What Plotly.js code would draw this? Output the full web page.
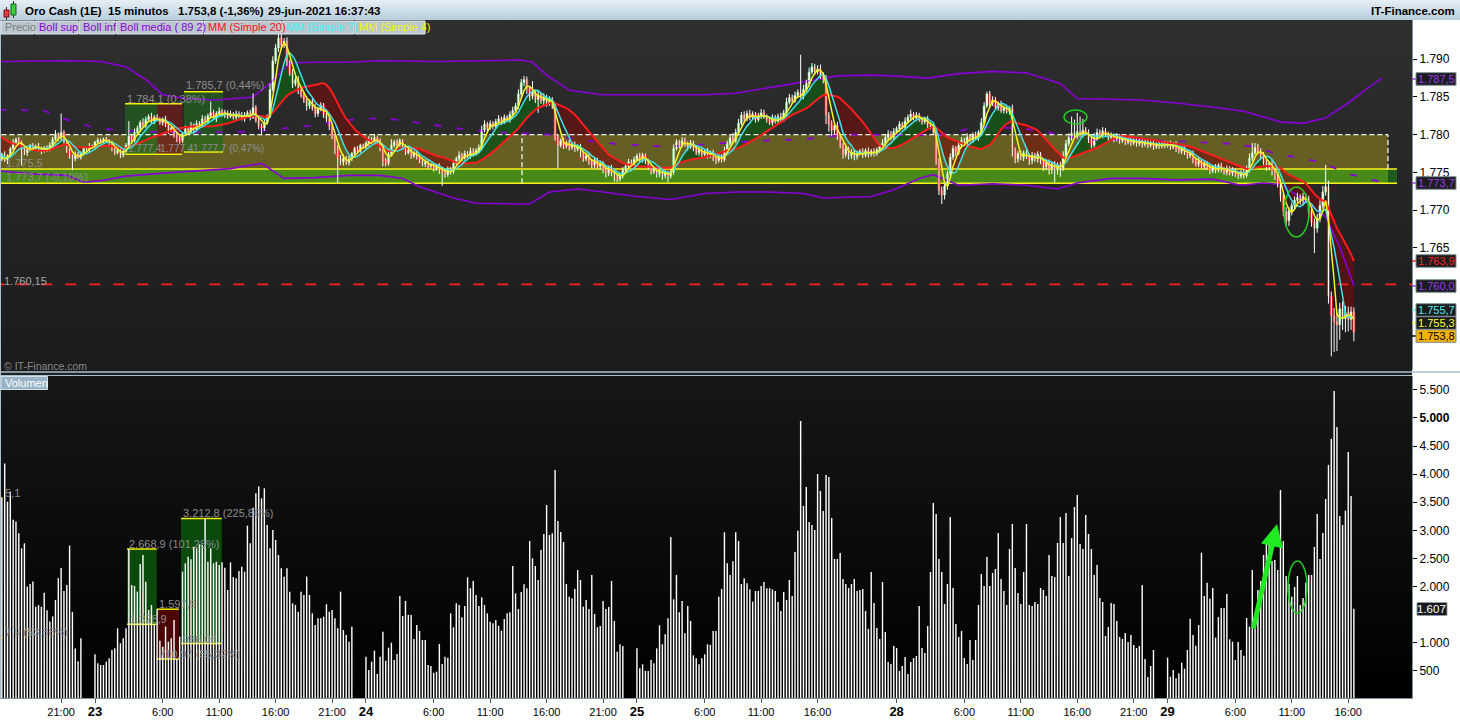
<!DOCTYPE html>
<html><head><meta charset="utf-8">
<script src="https://cdn.plot.ly/plotly-3.0.1.min.js"></script>
<style>
html,body{margin:0;padding:0;background:#fff;overflow:hidden}
#wrap{position:relative;width:1460px;height:720px;background:#fff}
.bg{position:absolute}
#plot{position:absolute;left:0;top:0;width:1460px;height:720px}
</style></head><body>
<div id="wrap">
<div class="bg" style="left:0;top:0;width:1460px;height:20px;background:linear-gradient(#e6eff5,#b7cddc)"></div>
<div class="bg" style="left:0;top:20px;width:1412px;height:351px;background:linear-gradient(#2f2f2f,#1b1b1b)"></div>
<div class="bg" style="left:0;top:371px;width:1412px;height:5px;background:#202020"></div>
<div class="bg" style="left:0;top:376px;width:1412px;height:322px;background:linear-gradient(#171717,#000)"></div>
<div id="plot"></div>
</div>
<script>
// ================= DATA =================
// 15-minute bars: 22-jun 15:30 .. 29-jun 16:30 (no weekend)
const preClose = [1781.8,1782.2,1781.6,1782.0,1781.4,1781.9,1781.2,1780.8,1781.3,1780.6,
  1780.2,1779.6,1779.9,1779.1,1778.4,1777.8,1777.2,1776.9,1776.4];

const close22 = [
  1776.8,1777.4,1776.6,1777.2,1778.1,1778.9,1779.4,1779.0,1778.2,1777.6,
  1778.0,1778.6,1778.2,1778.5,1778.1,1777.8,1778.3,1778.0,1778.6,1779.4,
  1780.1,1779.6,1780.3,1779.0,1777.9,1777.2,1776.8,1777.4,1777.0,1777.6,
  1778.2,1778.0,1778.5,1778.3];
const close23 = [
  1779.0,1779.3,1779.1,1779.4,1779.2,1778.9,1778.2,1777.6,1777.9,1777.3,
  1777.8,1778.6,1779.8,1779.2,1780.3,1780.8,1781.6,1781.2,1782.0,1782.4,
  1781.8,1782.3,1782.0,1781.6,1782.1,1781.3,1780.6,1780.9,1780.0,1779.6,
  1779.2,1780.1,1780.8,1780.4,1781.2,1780.7,1781.5,1781.2,1782.1,1781.7,
  1782.5,1782.9,1782.2,1782.8,1783.1,1782.6,1782.9,1782.4,1782.7,1782.3,
  1782.8,1782.5,1782.1,1782.6,1782.9,1782.3,1783.6,1781.9,1781.2,1780.9,
  1781.6,1782.4,1786.0,1789.8,1791.5,1792.8,1791.9,1792.4,1789.6,1788.1,
  1786.8,1787.3,1785.9,1785.2,1784.6,1783.8,1784.4,1783.5,1782.8,1783.4,
  1783.9,1782.7,1782.1,1781.2,1779.8,1778.2,1777.0,1776.4,1776.9,1776.3,
  1776.8,1777.5,1778.2,1777.8,1778.6,1778.4];
const close24 = [
  1778.9,1779.4,1779.0,1779.6,1779.2,1778.1,1776.6,1776.2,1777.4,1778.6,
  1779.0,1778.7,1779.2,1778.4,1777.6,1777.9,1777.2,1777.6,1777.0,1776.6,
  1776.1,1776.4,1775.8,1776.0,1775.5,1775.9,1775.3,1775.0,1774.7,1775.4,
  1775.1,1776.2,1776.8,1777.3,1776.9,1777.5,1777.2,1777.8,1777.4,1777.9,
  1778.3,1780.6,1781.4,1780.9,1781.5,1781.1,1781.7,1782.1,1781.6,1782.3,
  1782.0,1782.7,1783.2,1783.8,1785.4,1786.9,1787.3,1786.2,1785.1,1785.6,
  1784.7,1785.3,1784.5,1784.9,1784.2,1784.6,1783.9,1779.6,1778.6,1779.2,
  1778.5,1778.9,1778.3,1778.7,1778.1,1778.4,1777.5,1776.8,1777.2,1776.4,
  1776.0,1776.6,1775.8,1776.2,1775.4,1774.9,1775.6,1775.0,1774.4,1774.1,
  1774.6,1775.3,1775.8,1776.4,1776.1,1776.7];
const close25 = [
  1777.2,1776.8,1777.3,1776.5,1775.6,1775.1,1775.5,1774.8,1775.2,1774.6,
  1775.0,1774.5,1775.1,1778.2,1779.0,1778.6,1779.2,1778.8,1778.4,1778.9,
  1778.2,1777.6,1778.0,1777.4,1777.8,1777.2,1777.6,1776.9,1776.6,1777.1,
  1776.7,1777.9,1778.8,1779.6,1779.2,1780.3,1781.5,1782.6,1782.1,1782.8,
  1782.3,1782.7,1782.0,1782.5,1782.9,1782.4,1782.0,1781.6,1782.2,1781.8,
  1782.4,1782.0,1782.9,1784.3,1784.9,1784.5,1785.2,1785.6,1785.1,1786.0,
  1786.8,1788.3,1789.0,1788.4,1788.7,1787.9,1787.4,1782.6,1781.4,1780.6,
  1781.2,1779.8,1778.6,1777.4,1778.1,1777.2,1777.7,1777.1,1777.5,1777.8,
  1777.3,1777.9,1777.4,1777.8,1777.5,1778.0,1778.4,1778.9,1779.6,1780.1,
  1779.7,1780.4];
const close28 = [
  1780.8,1781.4,1781.0,1781.8,1782.3,1782.7,1782.2,1782.6,1782.0,1781.7,
  1782.1,1781.3,1781.0,1780.4,1776.5,1772.6,1772.0,1773.2,1774.8,1777.0,
  1778.2,1777.6,1778.6,1779.3,1779.0,1779.7,1779.3,1780.0,1779.6,1780.3,
  1781.6,1783.8,1785.4,1784.2,1784.6,1783.6,1784.1,1783.2,1783.6,1783.1,
  1783.5,1777.9,1776.8,1777.5,1777.0,1777.6,1777.2,1776.6,1777.3,1776.8,
  1777.4,1776.5,1775.8,1776.3,1775.5,1776.1,1775.3,1776.0,1775.6,1777.2,
  1778.8,1779.6,1780.2,1779.8,1780.4,1780.0,1780.6,1780.2,1779.4,1778.6,
  1779.6,1780.3,1779.9,1780.5,1780.1,1779.6,1779.9,1779.4,1779.8,1779.2,
  1779.5,1779.0,1779.4,1778.9,1779.3,1778.8,1779.2,1778.7,1779.0,1778.6,
  1778.9,1778.4,1778.7,1778.5,1778.8,1778.6];
const close29 = [
  1778.8,1778.4,1778.7,1778.1,1777.8,1778.2,1777.6,1777.2,1777.5,1776.6,
  1776.1,1776.5,1775.8,1776.2,1775.6,1775.2,1775.7,1775.3,1775.9,1775.4,
  1775.0,1775.5,1774.9,1775.3,1774.7,1774.5,1775.0,1774.6,1775.4,1776.9,
  1777.6,1778.3,1777.8,1777.2,1776.4,1775.8,1776.2,1775.2,1774.5,1773.6,
  1771.9,1769.8,1768.6,1769.9,1770.6,1771.3,1771.7,1771.2,1771.8,1771.4,
  1769.8,1768.4,1767.6,1768.9,1770.6,1772.4,1773.1,1758.6,1756.0,1755.2,
  1754.8,1756.9,1755.6,1756.4,1755.5,1756.5,1753.8];

// upper / lower wick lengths, in tenths of a dollar
const wickUp22 = [3,2,4,2,3,5,2,3,2,4, 3,2,3,2,4,3,2,3,4,3, 5,2,25,3,2,3,2,4,3,2, 3,2,4,2];
const wickDn22 = [4,3,2,5,3,2,3,2,23,3, 4,2,3,2,3,4,2,3,2,3, 2,4,3,2,3,4,15,3,2,3, 4,2,3,2];
const wickUp23 = [2,3,2,2,3,2,3,2,4,3, 2,3,20,3,5,4,3,6,4,3, 5,3,4,3,2,4,3,2,3,4, 3,2,4,3,5,3,4,3,5,4,
  3,15,4,3,5,3,4,3,5,3, 4,3,5,4,3,4,19,3,4,3, 5,3,8,6,5,12,6,4,5,3, 6,4,5,3,4,5,3,4,6,3,
  4,3,5,4,3,2,4,3,5,3, 4,2,2,3,2,2];
const wickDn23 = [3,2,3,2,2,3,4,3,2,4, 3,2,3,4,2,3,4,2,3,4, 3,4,2,3,4,3,5,3,4,6, 4,3,2,4,3,5,3,4,3,2,
  3,4,2,5,3,2,4,3,2,3, 4,3,2,4,3,4,2,3,5,10, 4,3,2,3,4,5,6,4,5,3, 6,4,5,3,4,6,4,3,5,4,
  3,5,4,6,4,8,34,4,5,3, 4,3,2,3,2,3];
const wickUp24 = [3,4,3,5,2,3,4,3,5,8, 3,4,3,2,3,4,3,2,3,4, 2,3,4,2,3,2,3,2,3,4, 3,4,3,5,3,4,3,5,4,3,
  4,6,5,3,4,3,4,5,3,4, 3,4,5,4,6,5,5,4,3,15, 4,5,3,6,4,5,4,3,4,3, 4,3,4,3,4,3,4,3,4,3,
  3,4,3,4,3,4,3,4,3,4, 3,4,3,4,3,4];
const wickDn24 = [3,4,2,3,4,3,8,4,3,2, 3,4,3,4,3,2,4,3,3,4, 3,4,3,2,4,3,5,18,4,3, 4,3,2,3,4,2,3,4,3,2,
  3,4,3,5,3,4,3,4,3,2, 3,4,3,2,4,6,5,8,6,4, 5,18,4,6,5,4,5,4,31,3, 4,3,4,3,4,3,5,4,3,4,
  5,4,3,4,5,6,4,5,6,4, 3,4,3,2,3,4];
const wickUp25 = [3,4,3,2,3,4,3,2,3,4, 3,2,6,5,4,3,5,4,3,4, 3,4,3,4,3,4,3,4,3,4, 3,5,4,5,6,5,6,4,5,4,
  5,4,3,4,5,4,3,4,5,4, 4,5,4,6,5,4,5,4,50,6, 5,6,5,4,5,6,4,5,4,5, 4,5,4,3,4,3,4,3,4,3,
  4,3,4,3,4,3,4,5,4,5, 4,5];
const wickDn25 = [3,4,5,4,3,4,3,5,4,6, 4,8,3,4,3,4,3,4,5,3, 4,3,4,5,3,4,3,4,5,3, 4,3,4,3,4,3,4,3,4,3,
  4,3,4,3,4,3,4,3,4,3, 3,4,3,4,3,4,3,4,3,4, 3,4,3,5,4,5,6,12,10,8, 6,5,4,6,4,5,4,5,4,3,
  4,3,4,3,4,3,4,3,4,3, 4,3];
const wickUp28 = [3,4,3,5,4,6,3,4,3,4, 3,4,3,4,3,4,5,6,4,5, 4,3,5,4,3,5,4,3,4,3, 6,5,3,4,5,4,3,4,3,4,
  3,5,4,3,4,3,4,3,4,3, 4,3,4,3,4,3,4,3,4,6, 5,6,22,18,25,20,15,4,5,3, 6,5,4,5,4,3,4,3,4,3,
  3,4,3,4,3,4,3,4,3,4, 3,4,3,4,3,4];
const wickDn28 = [3,4,3,4,3,4,3,4,3,4, 3,4,3,4,5,6,12,6,5,4, 4,5,3,4,3,4,3,4,3,4, 3,4,3,5,4,3,4,3,4,3,
  4,8,6,5,4,5,4,6,5,4, 5,4,6,5,8,7,17,6,12,4, 4,3,4,3,4,3,4,3,5,4, 3,4,3,4,3,4,3,4,3,4,
  3,4,3,4,3,4,3,4,3,4, 3,4,3,4,3,4];
const wickUp29 = [3,4,3,4,3,4,3,4,3,4, 3,4,3,4,3,4,3,4,3,4, 3,4,3,4,3,4,3,4,5,6, 13,6,5,4,5,4,3,4,3,4,
  5,4,6,5,4,5,6,4,5,4, 5,4,5,6,7,8,29,8,6,10, 12,8,10,9,8,7,6];
const wickDn29 = [3,4,3,4,3,4,3,4,3,4, 3,4,3,4,3,4,3,4,3,4, 3,4,3,4,3,4,3,4,3,4, 4,3,4,5,4,6,5,6,5,6,
  8,6,8,7,6,5,4,5,6,5, 8,6,33,6,5,4,5,10,54,40, 35,20,15,18,16,14,12];

// volume per bar
const vol22 = [
  2900,3580,4190,3510,3690,3190,3160,2950,2680,2770,
  2000,2045,2090,1640,1670,1640,1890,1580,1380,1470,
  1760,2150,2330,1920,2030,2730,1550,900,670,1080,
  0,0,0,0];
const vol23 = [
  795,635,605,605,664,724,872,902,1258,991,
  1080,1258,2669,2028,2011,1910,2402,2562,2088,1584,
  1673,1329,1598,1038,931,1287,1020,1080,1406,711,
  1109,2266,2414,2532,2485,2710,2681,2752,2740,3213,
  2443,2681,2414,2443,2384,2431,2337,1939,2431,2170,
  2147,2277,2354,2266,3084,2770,3405,3660,3779,3571,
  3749,3096,2681,3007,2829,2562,2325,2177,2325,1910,
  1702,1673,1554,1910,1850,2177,1850,1524,1317,1435,
  1435,1465,1685,1554,1584,1435,1258,1910,1228,1139,
  1020,1287,0,0,0,0];
const vol24 = [
  753,516,664,860,445,753,1198,682,913,1002,
  694,801,1833,1477,1744,1495,1495,1068,1317,1210,
  1050,1050,605,587,468,486,979,623,753,735,
  1525,1276,1703,1673,1454,1655,2165,1970,2100,1851,
  1655,1809,1673,1525,1376,1347,1406,1299,1216,1424,
  1525,1542,2367,1880,1601,1904,2040,1970,2811,2503,
  2367,2117,2651,2936,3452,2918,2948,4075,3167,2972,
  2794,2046,1821,1791,1957,2295,2117,1643,1762,1601,
  2206,1512,1276,1299,1744,1601,1637,2100,1388,842,
  973,943,0,0,0,0];
const vol25 = [
  901,546,617,498,498,694,635,901,1311,973,
  1151,1436,2883,1773,2206,1542,1744,1169,1655,1388,
  777,724,617,724,795,973,961,1210,1210,1821,
  1957,2966,2414,2206,2450,2966,2811,2046,2147,2058,
  1951,1732,1922,1922,2011,2082,1970,1970,1951,1922,
  1726,1566,1904,1762,2117,1833,2616,2995,4947,3434,
  3772,3149,3096,3007,4004,3701,3345,3986,3950,3221,
  2491,2491,2598,2135,2046,1975,2046,2135,1922,1940,
  1957,1566,1246,2260,1708,1263,1068,2082,1192,658,
  623,943];
const vol28 = [
  907,498,587,747,445,658,729,765,1655,907,
  818,1299,2260,3488,3292,2491,2260,1690,2046,3238,
  1975,1335,1103,1210,729,623,1050,694,1050,1673,
  2224,2011,2527,2011,2242,2313,2954,2135,1922,1673,
  2669,3114,2331,1886,1690,2260,3114,1673,1655,1726,
  1690,1975,1940,1833,2562,2189,2171,2776,3238,2776,
  3310,2189,2865,3416,3630,2758,2669,3274,2936,2669,
  2206,2384,1797,1726,1121,1281,1708,1690,1388,1103,
  1068,1174,1014,1139,961,907,943,2028,712,391,
  587,872,0,0,0,0];
const vol29 = [
  735,397,516,368,457,646,539,872,1429,1139,
  949,1317,2603,1833,2070,1785,1975,1091,1459,1619,
  1619,1868,1062,1020,694,1014,872,771,1441,1287,
  2295,1258,1940,2100,2562,2841,2859,2456,2473,2295,
  3719,2811,2189,2046,1821,1993,2189,1673,1797,2070,
  2206,2206,2705,3292,2491,2954,3559,4164,4626,5480,
  4840,3256,3096,3351,4395,3612,1607];

// Bollinger (89, 2) (bar index, price)
const bollUpX = [0,12,24,36,45,52,58,66,77,90,96,103,112,124,135,155,185,189,194,202,214,226,250,261,273,285,297,309,317,329,340,352,364,376,382,394,405,417,429,441,454,462,470,478,485,490];
const bollUpY = [1789.7,1789.8,1789.8,1789.7,1789.0,1787.3,1785.3,1784.8,1784.6,1785.0,1786.8,1789.5,1789.6,1789.6,1789.8,1789.7,1789.9,1789.6,1787.9,1785.9,1785.3,1785.3,1785.3,1785.5,1786.2,1787.0,1787.8,1787.9,1787.8,1787.5,1788.1,1788.4,1788.2,1786.8,1784.8,1784.7,1784.6,1784.2,1783.7,1783.1,1781.7,1781.5,1782.2,1784.2,1786.2,1787.5];
const bollLoX = [0,12,24,30,36,45,58,66,82,93,98,101,112,124,135,143,149,161,169,188,195,205,214,226,238,250,261,273,285,292,309,317,326,331,340,352,364,375,382,394,405,417,430,440,448,454,457,463,470,475,480];
const bollLoY = [1775.2,1774.8,1774.6,1773.7,1773.9,1774.5,1774.9,1775.1,1775.5,1776.2,1774.9,1774.2,1774.3,1774.6,1774.6,1774.2,1773.1,1771.6,1770.9,1770.8,1772.4,1772.8,1772.4,1771.8,1771.4,1772.2,1772.4,1772.4,1772.2,1771.6,1771.8,1772.7,1774.2,1774.7,1773.3,1773.5,1773.3,1772.8,1773.6,1774.2,1774.2,1774.0,1774.1,1773.3,1773.6,1773.4,1772.7,1771.1,1769.1,1765.1,1760.0];
const bollMidX = [0,16,22,35,50,70,90,110,125,135,143,155,165,178,195,208,218,237,253,270,285,300,310,325,336,346,358,368,385,402,420,436,445,452,461,469,477,490];
const bollMidY = [1783.3,1783.2,1782.2,1780.8,1780.4,1780.3,1780.4,1781.2,1782.0,1782.2,1781.9,1781.3,1780.7,1780.3,1780.0,1779.2,1778.8,1778.4,1778.8,1779.2,1779.4,1780.0,1780.0,1779.9,1780.1,1781.0,1780.9,1780.6,1779.3,1779.3,1779.1,1778.8,1778.4,1777.5,1776.9,1776.3,1774.9,1773.7];

// levels / zones
const zoneTop = 1780.0, zoneMid = 1775.45, zoneBot = 1773.55, redLevel = 1760.15;
// measurement boxes (values from their labels)
const priceBoxes = [[1784.1,1777.4,'g'],[1784.1,1777.4,'r'],[1785.7,1777.7,'g']];
const volBoxes = [[2668.9,1328.9,'g'],[1597.9,710.97,'r'],[3212.8,986.06,'g']];

// axis ticks (the ones hidden behind value tags in the reference are left out)
const tickDays  = [22,23,23,23,23,23,24,24,24,24,24,25,25,25,25,28,28,28,28,28,29,29,29,29];
const tickHours = [21,0,6,11,16,21,0,6,11,16,21,0,6,11,16,0,6,11,16,21,0,6,11,16];
const priceTicks = [1765,1770,1775,1780,1785,1790];
const volTicks = [500,1000,2000,2500,3000,3500,4000,4500,5000,5500];
const volTickText = ['500','1.000','2.000','2.500','3.000','3.500','4.000','4.500','<b>5.000</b>','5.500'];

// last values shown on the right scale
const lastLabels = [
  ['1.787,5','boll'],['1.773,7','boll'],['1.763,9','mm20'],['1.760,0','boll'],
  ['1.755,7','mm7'],['1.755,3','mm4'],['1.753,8','price']];

// ================= BUILD =================
const close = [].concat(close22,close23,close24,close25,close28,close29);
const wUp = [].concat(wickUp22,wickUp23,wickUp24,wickUp25,wickUp28,wickUp29);
const wDn = [].concat(wickDn22,wickDn23,wickDn24,wickDn25,wickDn28,wickDn29);
const vol = [].concat(vol22,vol23,vol24,vol25,vol28,vol29);
const N = close.length;
const idx = close.map((_,i)=>i);
const open = close.map((c,i)=> i===0 ? preClose[preClose.length-1] : close[i-1]);
const hi = close.map((c,i)=> Math.max(c,open[i]) + (wUp[i]||0)/10);
const lo = close.map((c,i)=> Math.min(c,open[i]) - (wDn[i]||0)/10);
const all = preClose.concat(close);
function sma(n){ return close.map((_,i)=>{ let s=0; for(let k=0;k<n;k++) s+=all[i+preClose.length-k]; return s/n; }); }
const mm20 = sma(20), mm7 = sma(7), mm4 = sma(4);

const PURPLE='#8a00d8';
const wx=[], wy=[];
for(let i=0;i<N;i++){ wx.push(i,i,null); wy.push(lo[i],hi[i],null); }
const isUp = close.map((c,i)=>c>=open[i]);
const bodyBase = close.map((c,i)=>Math.min(c,open[i]));
const bodyH = close.map((c,i)=>Math.max(Math.abs(c-open[i]),0.13));

// pixel helpers (layout only)
const PW=1412, PHt=678;
const px = x=>x/PW, py = y=>(698-y)/PHt;
const XI = p=>(p+0.97)/2.8226;           // pixel column -> bar position

const traces = [
  {type:'scatter',mode:'lines',x:bollUpX,y:bollUpY,line:{color:PURPLE,width:1.6},hoverinfo:'skip'},
  {type:'scatter',mode:'lines',x:bollLoX,y:bollLoY,line:{color:PURPLE,width:1.6},hoverinfo:'skip'},
  {type:'scatter',mode:'lines',x:bollMidX,y:bollMidY,line:{color:PURPLE,width:1.8,dash:'7px,15px'},hoverinfo:'skip'},
  {type:'scatter',mode:'lines',x:wx,y:wy,line:{color:'#ffffff',width:1},connectgaps:false,hoverinfo:'skip'},
  {type:'bar',x:idx,y:bodyH,base:bodyBase,width:0.74,
    marker:{color:isUp.map(u=>u?'#ffffff':'#ff2424'),line:{color:isUp.map(u=>u?'#5fd85f':'#ff2424'),width:0.6}},hoverinfo:'skip'},
  {type:'scatter',mode:'lines',x:idx,y:mm20,line:{color:'#ff1c1c',width:2},hoverinfo:'skip'},
  {type:'scatter',mode:'lines',x:idx,y:mm7,line:{color:'#3fe2e8',width:1.5},hoverinfo:'skip'},
  {type:'scatter',mode:'lines',x:idx,y:mm4,line:{color:'#f4f41e',width:1.5},hoverinfo:'skip'},
  {type:'bar',x:idx,y:vol,width:0.5,marker:{color:'#ffffff',line:{width:0}},xaxis:'x2',yaxis:'y2',hoverinfo:'skip'}
];

// ---------- shapes ----------
const shapes=[];
const add=o=>shapes.push(o);
const dr=(o)=>add(Object.assign({type:'rect',layer:'below',xref:'x',yref:'y',line:{width:0}},o));
const dl=(o)=>add(Object.assign({type:'line',layer:'below',xref:'x',yref:'y'},o));
// zones
dr({x0:-2,x1:XI(1388),y0:zoneMid,y1:zoneTop,fillcolor:'#665f24'});
dr({x0:-2,x1:XI(1388),y0:zoneBot,y1:zoneMid,fillcolor:'#478a17'});
dr({x0:XI(1388),x1:XI(1397),y0:zoneBot,y1:zoneMid,fillcolor:'#1f5a20'});
// fills between MM7 and MM20
(function(){
  const G='rgba(22,82,22,0.9)', R='rgba(118,12,12,0.6)';
  let cur=null; const polys=[];
  for(let i=0;i<N;i++){
    const s = mm7[i]>=mm20[i]?1:-1;
    if(!cur){cur={s,pts:[[i,mm7[i],mm20[i]]]};continue;}
    if(s!==cur.s){
      const d0=mm7[i-1]-mm20[i-1], d1=mm7[i]-mm20[i];
      const t=d0/(d0-d1), xi=i-1+t, yi=mm7[i-1]+t*(mm7[i]-mm7[i-1]);
      cur.pts.push([xi,yi,yi]); polys.push(cur);
      cur={s,pts:[[xi,yi,yi],[i,mm7[i],mm20[i]]]};
    } else cur.pts.push([i,mm7[i],mm20[i]]);
  }
  polys.push(cur);
  polys.forEach(p=>{
    const f=p.pts.map(q=>q[0].toFixed(3)+','+q[1].toFixed(3));
    const b=p.pts.slice().reverse().map(q=>q[0].toFixed(3)+','+q[2].toFixed(3));
    add({type:'path',layer:'below',xref:'x',yref:'y',path:'M '+f.join(' L ')+' L '+b.join(' L ')+' Z',
      fillcolor:p.s>0?G:R,line:{width:0}});
  });
})();
// measurement boxes (price)
const pbx=[[125,157],[157,182],[184,223]];
priceBoxes.forEach((b,k)=>{
  dr({x0:XI(pbx[k][0]),x1:XI(pbx[k][1]),y0:b[1],y1:b[0],fillcolor:b[2]==='g'?'rgba(30,105,30,0.65)':'rgba(115,25,25,0.7)'});
  dl({x0:XI(pbx[k][0]),x1:XI(pbx[k][1]),y0:b[0],y1:b[0],line:{color:'#f2f200',width:1.5}});
  dl({x0:XI(pbx[k][0]),x1:XI(pbx[k][1]),y0:b[1],y1:b[1],line:{color:'#f2f200',width:1.5}});
});
// zone borders
dl({x0:-2,x1:XI(1397),y0:zoneMid,y1:zoneMid,line:{color:'#f4f41a',width:1.5}});
dl({x0:-2,x1:XI(1397),y0:zoneBot,y1:zoneBot,line:{color:'#f4f41a',width:1.5}});
dl({x0:-2,x1:XI(1388),y0:zoneTop,y1:zoneTop,line:{color:'#ffffff',width:1.2,dash:'5px,3px'}});
dl({x0:XI(1388),x1:XI(1388),y0:zoneMid,y1:zoneTop,line:{color:'#ffffff',width:1.2,dash:'5px,3px'}});
dl({x0:XI(522),x1:XI(522),y0:zoneBot,y1:zoneTop,line:{color:'#ffffff',width:1.2,dash:'5px,3px'}});
dl({x0:-2,x1:520,y0:redLevel,y1:redLevel,line:{color:'#ff1e1e',width:1.6,dash:'11px,13px'}});
// measurement boxes (volume)
const vbx=[[127,156.7],[156.7,179],[181,221.7]];
volBoxes.forEach((b,k)=>{
  add({type:'rect',layer:'below',xref:'x2',yref:'y2',x0:XI(vbx[k][0]),x1:XI(vbx[k][1]),y0:b[1],y1:b[0],
    fillcolor:b[2]==='g'?'#0a4a0b':'#4c0606',line:{width:0}});
  add({type:'line',layer:'below',xref:'x2',yref:'y2',x0:XI(vbx[k][0]),x1:XI(vbx[k][1]),y0:b[0],y1:b[0],line:{color:'#f2f200',width:1.5}});
  add({type:'line',layer:'below',xref:'x2',yref:'y2',x0:XI(vbx[k][0]),x1:XI(vbx[k][1]),y0:b[1],y1:b[1],line:{color:'#f2f200',width:1.5}});
});
add({type:'line',layer:'above',xref:'paper',yref:'paper',x0:0,x1:px(2.5),y0:py(498),y1:py(498),line:{color:'#f2f200',width:1.2}});
add({type:'line',layer:'above',xref:'paper',yref:'paper',x0:0,x1:px(2.5),y0:py(638),y1:py(638),line:{color:'#f2f200',width:1.2}});
// ellipses
[[1064,110,1087,124],[1284,187,1309,237],[1288,561,1307,613]].forEach(e=>{
  add({type:'circle',layer:'above',xref:'paper',yref:'paper',x0:px(e[0]),x1:px(e[2]),y0:py(e[3]),y1:py(e[1]),line:{color:'#1fcf1f',width:1.5}});
});
// separators / frame
add({type:'line',layer:'above',xref:'paper',yref:'paper',x0:0,x1:px(1460),y0:py(372),y1:py(372),line:{color:'#a9bfcd',width:1.6}});
add({type:'line',layer:'above',xref:'paper',yref:'paper',x0:0,x1:px(1412),y0:py(375.5),y1:py(375.5),line:{color:'#a9bfcd',width:1}});
add({type:'line',layer:'above',xref:'paper',yref:'paper',x0:px(0.5),x1:px(0.5),y0:py(20),y1:py(698),line:{color:'#a9bfcd',width:1}});
// legend boxes in header row
const legendBoxes=[[1,34],[35,78],[79,115],[116,203],[204,281],[282,354],[355,425]];
legendBoxes.forEach(b=>add({type:'rect',layer:'above',xref:'paper',yref:'paper',x0:px(b[0]),x1:px(b[1]),y0:py(34),y1:py(21),
  fillcolor:'#b9c7cf',line:{color:'#e3ebf0',width:1}}));
// Volumen tag
add({type:'rect',layer:'above',xref:'paper',yref:'paper',x0:px(1),x1:px(47.5),y0:py(389.5),y1:py(376.5),fillcolor:'#97b3c5',line:{color:'#d3e0e8',width:1}});
// header icon
add({type:'line',layer:'above',xref:'paper',yref:'paper',x0:px(6.5),x1:px(6.5),y0:py(20),y1:py(7),line:{color:'#333',width:1}});
add({type:'rect',layer:'above',xref:'paper',yref:'paper',x0:px(4),x1:px(9),y0:py(17),y1:py(10),fillcolor:'#e23c3c',line:{color:'#7a1010',width:1}});
add({type:'line',layer:'above',xref:'paper',yref:'paper',x0:px(13.5),x1:px(13.5),y0:py(18),y1:py(1),line:{color:'#333',width:1}});
add({type:'rect',layer:'above',xref:'paper',yref:'paper',x0:px(11),x1:px(16),y0:py(15),y1:py(4),fillcolor:'#3ccf3c',line:{color:'#106010',width:1}});

// right-scale value tags
const tagStyle={boll:['#9a3cf0','#1c1c1c'],mm20:['#ff2020','#1c1c1c'],mm7:['#48f2f2','#1c1c1c'],mm4:['#ffff2a','#1c1c1c'],price:['#000000','#f6b400']};
const tagY=[79,183,261,286,310,323,336];
const annotations=[];
lastLabels.forEach((l,k)=>{
  const st=tagStyle[l[1]], y=tagY[k];
  add({type:'line',layer:'above',xref:'paper',yref:'paper',x0:px(1412),x1:px(1416),y0:py(y),y1:py(y),line:{color:st[0]==='#000000'?'#000':st[0],width:1.5}});
  add({type:'rect',layer:'above',xref:'paper',yref:'paper',x0:px(1416),x1:px(1456),y0:py(y+6.3),y1:py(y-6.3),fillcolor:st[1],line:{color:'#7e8f99',width:1}});
  annotations.push({xref:'paper',yref:'paper',x:px(1436),y:py(y),xanchor:'center',yanchor:'middle',showarrow:false,text:l[0],
    font:{size:11,color:st[0]}});
});
add({type:'rect',layer:'above',xref:'paper',yref:'paper',x0:px(1417),x1:px(1447),y0:py(615.5),y1:py(602.5),fillcolor:'#1a1a1a',line:{color:'#8a9ba5',width:1}});
annotations.push({xref:'paper',yref:'paper',x:px(1432),y:py(609),xanchor:'center',yanchor:'middle',showarrow:false,text:'1.607',font:{size:11.5,color:'#ffffff'}});

// ---------- text annotations ----------
function T(text,x,y,o){ annotations.push(Object.assign({xref:'paper',yref:'paper',x:px(x),y:py(y),xanchor:'left',yanchor:'middle',showarrow:false,text,
  font:{size:11,color:'#8d8d8d'}},o||{})); }
const HF={size:11.5,color:'#000'};
T('<b>Oro Cash (1E)</b>',23,11,{font:HF});
T('<b>15 minutos</b>',106,11,{font:HF});
T('<b>1.753,8 (-1,36%)</b>',176,11,{font:HF});
T('<b>29-jun-2021 16:37:43</b>',266,11,{font:HF});
T('<b>IT-Finance.com</b>',1457,11,{font:HF,xanchor:'right'});
const legTexts=[['Precio','#7e7e7e'],['Boll sup','#8f00d8'],['Boll inf','#8f00d8'],['Boll media ( 89 2)','#8f00d8'],
  ['MM (Simple 20)','#ff1010'],['MM (Simple 7)','#3ff0f4'],['MM (Simple 4)','#f4f400']];
legTexts.forEach((l,k)=>T(l[0],legendBoxes[k][0]+2,27.5,{font:{size:11,color:l[1]}}));
T('Volumen',3,383,{font:{size:11,color:'#ffffff'}});
T('© IT-Finance.com',2,366,{font:{size:10.5,color:'#8a8a8a'}});
T('1.775,5',4,163);
T('1.773,7 (-0,10%)',4,177);
T('1.760,15',2,281,{font:{size:11,color:'#a8a8a8'}});
T('1.784,1 (0,38%)',125,98.5);
T('1.785,7 (0,44%)',184,85.5);
T('1.777,4',126,149,{font:{size:10,color:'#8d8d8d'}});
T('1.777,4',158,149,{font:{size:10,color:'#8d8d8d'}});
T('1.777,7 (0,47%)',191,149,{font:{size:10,color:'#8d8d8d'}});
T('5,1',3,493);
T('7,9 (53,88%)',3,632);
T('2.668,9 (101,28%)',127,544);
T('1.328,9',128,619);
T('1.597,9',157,604);
T('710,97 (55,32%)',157,654);
T('3.212,8 (225,86%)',181,513);
T('986,06',181,639);
// green arrow on volume
annotations.push({xref:'x2',yref:'y2',axref:'x2',ayref:'y2',x:XI(1277),y:3114,ax:XI(1253),ay:1228,
  showarrow:true,arrowhead:2,arrowsize:0.9,arrowwidth:5,arrowcolor:'#22ea22',standoff:0,startstandoff:0,text:''});

// ---------- axes ----------
const dayStart={22:-62,23:34,24:130,25:226,28:318,29:414};
const xTickVals=tickDays.map((d,k)=>dayStart[d]+4*tickHours[k]);
const xTickText=tickDays.map((d,k)=>tickHours[k]===0?'<span style="font-size:13px"><b>'+d+'</b></span>':tickHours[k]+':00');
const xr=[XI(0),XI(1412)];

const layout={
  width:1460,height:720,margin:{l:0,r:48,t:20,b:22,pad:0},
  paper_bgcolor:'rgba(0,0,0,0)',plot_bgcolor:'rgba(0,0,0,0)',
  separators:',.',showlegend:false,barmode:'overlay',hovermode:false,
  font:{family:'Liberation Sans, Arial, sans-serif',size:12,color:'#000'},
  xaxis:{domain:[0,1],range:xr,anchor:'y',showticklabels:false,ticks:'',showgrid:false,zeroline:false,showline:false,fixedrange:true},
  yaxis:{domain:[0.48378,1],range:[1748.79,1795.21],side:'right',anchor:'x',tickvals:priceTicks,tickformat:',.0f',
    ticks:'outside',ticklen:4,tickcolor:'#000',showgrid:false,zeroline:false,showline:true,linecolor:'#7f939f',linewidth:1,
    tickfont:{size:12,color:'#000'},automargin:false},
  xaxis2:{domain:[0,1],range:xr,anchor:'y2',tickvals:xTickVals,ticktext:xTickText,ticks:'outside',ticklen:4,tickcolor:'#555',
    showgrid:false,zeroline:false,showline:true,linecolor:'#7f939f',linewidth:1,tickfont:{size:11,color:'#000'},automargin:false},
  yaxis2:{domain:[0,0.47493],range:[17.8,5747],side:'right',anchor:'x2',tickvals:volTicks,ticktext:volTickText,
    ticks:'outside',ticklen:4,tickcolor:'#000',showgrid:false,zeroline:false,showline:true,linecolor:'#7f939f',linewidth:1,
    tickfont:{size:12,color:'#000'},automargin:false},
  shapes,annotations
};
Plotly.newPlot('plot',traces,layout,{staticPlot:true,displayModeBar:false});
</script>
</body></html>
